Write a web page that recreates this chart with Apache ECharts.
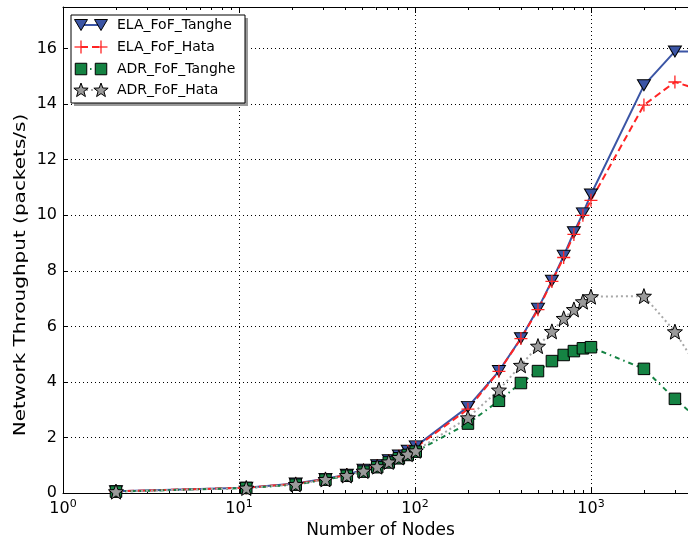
<!DOCTYPE html>
<html><head><meta charset="utf-8">
<script src="https://cdn.jsdelivr.net/npm/echarts@6/dist/echarts.min.js"></script>
<style>html,body{margin:0;padding:0;background:#fff}#c{width:688px;height:544px}</style>
</head><body><div id="c"></div>
<script>
// ---- data ----
const nodes      = [2, 11, 21, 31, 41, 51, 61, 71, 81, 91, 101, 200, 300, 400, 500, 600, 700, 800, 900, 1000, 2000, 3000, 4000];
const elaTanghe  = [0.06, 0.19, 0.34, 0.51, 0.66, 0.84, 1.00, 1.18, 1.35, 1.52, 1.68, 3.10, 4.39, 5.57, 6.64, 7.64, 8.54, 9.39, 10.07, 10.75, 14.68, 15.90, 15.90];
const elaHata    = [0.06, 0.19, 0.33, 0.50, 0.65, 0.82, 0.98, 1.16, 1.32, 1.49, 1.64, 3.02, 4.38, 5.56, 6.60, 7.62, 8.48, 9.31, 10.00, 10.54, 13.97, 14.80, 14.55];
const adrTanghe  = [0.05, 0.18, 0.30, 0.48, 0.62, 0.77, 0.93, 1.10, 1.25, 1.37, 1.49, 2.50, 3.32, 3.96, 4.39, 4.75, 4.97, 5.11, 5.21, 5.25, 4.47, 3.39, 2.70];
const adrHata    = [0.05, 0.18, 0.31, 0.49, 0.63, 0.79, 0.95, 1.12, 1.28, 1.40, 1.52, 2.71, 3.71, 4.60, 5.29, 5.82, 6.29, 6.61, 6.89, 7.07, 7.09, 5.81, 4.56];
const seriesNames = ['ELA_FoF_Tanghe', 'ELA_FoF_Hata', 'ADR_FoF_Tanghe', 'ADR_FoF_Hata'];
const xMajorTicks = [1, 10, 100, 1000];
const xMinorTicks = [2,3,4,5,6,7,8,9, 20,30,40,50,60,70,80,90, 200,300,400,500,600,700,800,900, 2000,3000];
const yTickLabels = [0, 2, 4, 6, 8, 10, 12, 14, 16];
const xLimits = [1, 3560];
const yLimits = [0, 17.5];
const xTitle = 'Number of Nodes';
const yTitle = 'Network Throughput (packets/s)';

// ---- helpers ----
const lg = v => Math.log10(v);
const FONT = 'DejaVu Sans';
const BLUE = '#3b55a5', RED = '#ff2424', GREEN = '#158343', GRAY = '#9a9a9a', GRAYLINE = '#a8a8a8';

function starPoints(cx, cy, R, r) {
  const pts = [];
  for (let i = 0; i < 10; i++) {
    const a = -Math.PI / 2 + i * Math.PI / 5;
    const rad = i % 2 === 0 ? R : r;
    pts.push([cx + rad * Math.cos(a), cy + rad * Math.sin(a)]);
  }
  return pts;
}
const starPath = 'path://' + starPoints(10, 10, 10, 4.2).map((p, i) => (i ? 'L' : 'M') + p[0].toFixed(2) + ',' + p[1].toFixed(2)).join('') + 'Z';
const triPath = 'path://M0,0L12,0L6,10.4Z';
const crossPath = 'path://M0,6L12,6M6,0L6,12';

const toData = arr => nodes.map((n, i) => [lg(n), arr[i]]);

const tickLabelStyle = { fontFamily: FONT, fontSize: 16, color: '#000' };

function xAxisDef(pos, major, showLabel, showLine) {
  return {
    type: 'value', position: pos,
    min: lg(xLimits[0]), max: lg(xLimits[1]),
    interval: 1,
    axisLine: { show: showLine, onZero: false, lineStyle: { color: '#000', width: 1 } },
    axisTick: { show: true, inside: true, length: major ? 6 : 3,
      customValues: (major ? xMajorTicks : xMinorTicks).map(lg),
      lineStyle: { color: '#000', width: 1 } },
    axisLabel: { show: showLabel, customValues: xMajorTicks.map(lg), margin: 6,
      formatter: v => '{b|10}{s|' + Math.round(v) + '}',
      rich: { b: { fontFamily: FONT, fontSize: 16, lineHeight: 20, color: '#000' },
              s: { fontFamily: FONT, fontSize: 11, lineHeight: 12, verticalAlign: 'top', color: '#000' } } },
    splitLine: { show: pos === 'bottom' && major, lineStyle: { color: '#000', width: 1, type: [1, 3] } },
    name: (pos === 'bottom' && major) ? xTitle : '',
    nameLocation: 'middle', nameGap: 29,
    nameTextStyle: { fontFamily: FONT, fontSize: 17, color: '#000', padding: [0, 0, 0, 10] }
  };
}

const option = {
  animation: false,
  backgroundColor: '#fff',
  grid: { left: 63, right: 0, top: 7, bottom: 47, containLabel: false },
  xAxis: [
    xAxisDef('bottom', true, true, true),
    xAxisDef('bottom', false, false, false),
    xAxisDef('top', true, false, true),
    xAxisDef('top', false, false, false)
  ],
  yAxis: {
    type: 'value', min: yLimits[0], max: yLimits[1], interval: 2,
    axisLine: { show: true, lineStyle: { color: '#000', width: 1 } },
    axisTick: { show: true, inside: true, length: 5, customValues: yTickLabels, lineStyle: { color: '#000' } },
    axisLabel: { customValues: yTickLabels, margin: 6, ...tickLabelStyle },
    splitLine: { show: true, lineStyle: { color: '#000', width: 1, type: [1, 3] } }
  },
  series: [
    { name: seriesNames[0], type: 'line', data: toData(elaTanghe), xAxisIndex: 0,
      symbol: triPath, symbolSize: [13, 11],
      lineStyle: { color: BLUE, width: 2 },
      itemStyle: { color: BLUE, borderColor: '#000', borderWidth: 1 } },
    { name: seriesNames[1], type: 'line', data: toData(elaHata), xAxisIndex: 0,
      symbol: crossPath, symbolSize: 13,
      lineStyle: { color: RED, width: 2, type: [7, 4] },
      itemStyle: { color: 'rgba(0,0,0,0)', borderColor: RED, borderWidth: 1.3 } },
    { name: seriesNames[2], type: 'line', data: toData(adrTanghe), xAxisIndex: 0,
      symbol: 'rect', symbolSize: 11.5,
      lineStyle: { color: GREEN, width: 2, type: [5, 4, 1.5, 4] },
      itemStyle: { color: GREEN, borderColor: '#000', borderWidth: 1 } },
    { name: seriesNames[3], type: 'line', data: toData(adrHata), xAxisIndex: 0,
      symbol: starPath, symbolSize: 15,
      lineStyle: { color: GRAYLINE, width: 2, type: [2, 3] },
      itemStyle: { color: GRAY, borderColor: '#000', borderWidth: 1 } }
  ],
  graphic: (function () {
    const g = [];
    // y axis title (stretched along its length as in the reference)
    g.push({ type: 'text', z: 50, x: 21, y: 275, rotation: Math.PI / 2, scaleX: 1.25, scaleY: 1,
      style: { text: yTitle, fontFamily: FONT, fontSize: 16, fill: '#000', align: 'center', verticalAlign: 'middle' } });
    const bx = 71, by = 15, bw = 174, bh = 88;
    g.push({ type: 'rect', z: 100, shape: { x: bx + 3, y: by + 3, width: bw, height: bh }, style: { fill: '#9a9a9a' } });
    g.push({ type: 'rect', z: 101, shape: { x: bx, y: by, width: bw, height: bh }, style: { fill: '#fff', stroke: '#000', lineWidth: 1 } });
    const ys = [25, 47, 69, 90];
    const x1 = 81, x2 = 101, tx = 117;
    const dashes = [null, [7, 4], [5, 4, 1.5, 4], [2, 3]];
    const cols = [BLUE, RED, GREEN, GRAYLINE];
    ys.forEach((y, i) => {
      g.push({ type: 'line', z: 102, shape: { x1: x1, y1: y, x2: x2, y2: y },
        style: { stroke: cols[i], lineWidth: 2, lineDash: dashes[i] } });
      [x1, x2].forEach(cx => {
        if (i === 0) g.push({ type: 'polygon', z: 103, shape: { points: [[cx - 6.5, y - 5.5], [cx + 6.5, y - 5.5], [cx, y + 5.5]] }, style: { fill: BLUE, stroke: '#000', lineWidth: 1 } });
        if (i === 1) {
          g.push({ type: 'line', z: 103, shape: { x1: cx - 6.5, y1: y, x2: cx + 6.5, y2: y }, style: { stroke: RED, lineWidth: 1.3 } });
          g.push({ type: 'line', z: 103, shape: { x1: cx, y1: y - 6.5, x2: cx, y2: y + 6.5 }, style: { stroke: RED, lineWidth: 1.3 } });
        }
        if (i === 2) g.push({ type: 'rect', z: 103, shape: { x: cx - 5.75, y: y - 5.75, width: 11.5, height: 11.5 }, style: { fill: GREEN, stroke: '#000', lineWidth: 1 } });
        if (i === 3) g.push({ type: 'polygon', z: 103, shape: { points: starPoints(cx, y + 0.5, 7.5, 3.1) }, style: { fill: GRAY, stroke: '#000', lineWidth: 1 } });
      });
      g.push({ type: 'text', z: 103, x: tx, y: y, style: { text: seriesNames[i], fontFamily: FONT, fontSize: 14, fill: '#000', verticalAlign: 'middle' } });
    });
    return g;
  })()
};

const chart = echarts.init(document.getElementById('c'), null, { renderer: 'canvas' });
chart.setOption(option);
</script>
</body></html>
